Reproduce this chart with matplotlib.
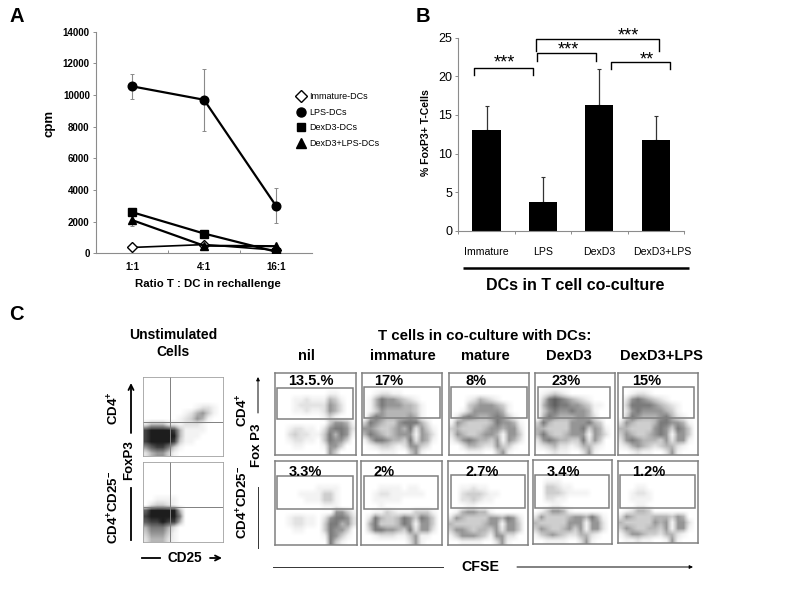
import matplotlib
matplotlib.use("Agg")
import matplotlib.pyplot as plt
import numpy as np
from matplotlib.lines import Line2D
from matplotlib.patches import Rectangle
from matplotlib.transforms import ScaledTranslation

plt.rcParams["font.family"] = ["Liberation Sans", "DejaVu Sans"]
plt.rcParams["mathtext.fontset"] = "custom"
plt.rcParams["mathtext.bf"] = "Liberation Sans:bold"
plt.rcParams["mathtext.rm"] = "Liberation Sans"

# Panel A
ratios = ["1:1", "4:1", "16:1"]
immature = [370, 550, 200]
lps = [10550, 9700, 3000]
dexd3 = [2600, 1250, 100]
dexd3_lps = [2100, 480, 450]
lps_err = [800, 1950, 1100]
dexd3_lps_err = [400, 100, 100]
a_yticks = [0, 2000, 4000, 6000, 8000, 10000, 12000, 14000]

# Panel B
b_cats = ["Immature", "LPS", "DexD3", "DexD3+LPS"]
b_vals = [13.1, 3.7, 16.3, 11.7]
b_errs = [3.0, 3.2, 4.6, 3.2]
b_yticks = [0, 5, 10, 15, 20, 25]

# Panel C texts
c_columns = ["nil", "immature", "mature", "DexD3", "DexD3+LPS"]
c_top_pct = ["13.5.%", "17%", "8%", "23%", "15%"]
c_bot_pct = ["3.3%", "2%", "2.7%", "3.4%", "1.2%"]

# Panel C: coarse density (0 empty .. 9 darkest), top row first
unstim_top = ["00000000000000", "00000000000000", "00000000000000", "00000000000000",
              "00000000000000", "00000000012210", "00000001245310", "00000012354100",
              "24442212221000", "89999841111000", "89999941110000", "89999831100000",
              "57886310000000", "24553100000000"]
unstim_bot = ["00000000000000", "00000000000000", "00000000000000", "00000000000000",
              "00000000000000", "00000000000000", "00111100000000", "02332100000000",
              "79999940000000", "89999960000000", "78898840000000", "46664200000000",
              "35553100000000", "24442100000000"]
nil_top = ["00000000000000", "00000000000000", "00000000000000", "00000000011000",
           "00011211143100", "00012222254200", "00011211254200", "00000000131000",
           "00000000035541", "00122110256652", "00232211364651", "00122110365530",
           "00011000155300", "00000000053000"]
imm_top = ["00000000000000", "00000000000000", "00000000000000", "00122110000000",
           "01465543210000", "01465554431000", "01354444431000", "04654444541000",
           "36543356664200", "55433454625310", "46543455515420", "14665443625410",
           "01233212553200", "00011100351000"]
mat_top = ["00000000000000", "00000000000000", "00000000000000", "00000000000000",
           "00012432100000", "00034555431000", "00135555541000", "02565445653100",
           "15433334655410", "34333345545520", "25433455415530", "13565443515420",
           "00244322533100", "00011100351000"]
dex_top = ["00000000000000", "00000000000000", "00000000000000", "01232100000000",
           "03676543210000", "04676655431100", "03565565541000", "04654445542000",
           "36433355564300", "44333355635410", "46433455515420", "25654433625300",
           "12342212442100", "00121100251000"]
dl_top = ["00000000000000", "00000000000000", "00000000000000", "00122100000000",
          "02565432100000", "03666654321000", "02565555431000", "03654445642100",
          "25433346655410", "44333356536530", "35433456515530", "25654443525510",
          "12454323442100", "00121100251000"]
nil_bot = ["00000000000000", "00000000000000", "00000000000000", "00000000000000",
           "00000001111000", "00001111331000", "00000111331000", "00000000111000",
           "00000000005531", "00122110256652", "00122110366452", "00011000365530",
           "00000000165310", "00000000063100"]
imm_bot = ["00000000000000", "00000000000000", "00000000000000", "00000000000000",
           "00011110110000", "00122111111000", "00111110000000", "00010000000000",
           "00113211133310", "02643346536530", "04633346515530", "03665543625520",
           "00122211351100", "00000000251000"]
mat_bot = ["00000000000000", "00000000000000", "00000000000000", "00000000000000",
           "00112110000000", "00233321100000", "00223211000000", "00011000000000",
           "01455441000000", "25433335546520", "43333345515530", "35543443525530",
           "13555431552200", "00111100251000"]
dex_bot = ["00000000000000", "00000000000000", "00000000000000", "00111000000000",
           "00332110000000", "00333211110000", "00221100000000", "00011000000000",
           "01355410000000", "25333345546410", "43333355515520", "35433453515520",
           "13454322442100", "00111100251000"]
dl_bot = ["00000000000000", "00000000000000", "00000000000000", "00000000000000",
          "00011000000000", "00122100000000", "00111100000000", "00011000000000",
          "01244300000000", "25433344435400", "43333354515520", "35433443515510",
          "13554332442100", "01121100151000"]

top_grids = [nil_top, imm_top, mat_top, dex_top, dl_top]
bot_grids = [nil_bot, imm_bot, mat_bot, dex_bot, dl_bot]

# Panel frames and gates in reference pixels: left, right, top, bottom
top_frames = [(275, 356, 373, 455), (362, 442, 373, 455), (449, 529, 373, 455),
              (535, 615, 373, 455), (618, 698, 373, 455)]
bot_frames = [(275, 357, 461, 545), (361, 442, 461, 545), (448, 528, 461, 545),
              (533, 612, 460, 544), (618, 698, 461, 543)]
top_gates = [(277, 353, 388, 419), (364, 440, 387, 418), (451, 527, 387, 418),
             (538, 610, 387, 418), (623, 694, 387, 418)]
bot_gates = [(277, 353, 476, 509), (364, 438, 476, 509), (451, 525, 475, 508),
             (535, 609, 475, 508), (620, 695, 475, 508)]

W, H = 800, 600
fig = plt.figure(figsize=(8, 6), dpi=100, facecolor="white")


def axes_px(l, r, t, b, **kw):
    return fig.add_axes([l / W, 1 - b / H, (r - l) / W, (b - t) / H], **kw)


GRAY = "#8c8c8c"

# ---------- A ----------
ax = axes_px(96, 312, 31.7, 253.3)
xa = np.arange(1, 4)
ax.errorbar(xa, lps, yerr=lps_err, fmt="none", ecolor="#8a8a8a", elinewidth=0.8, capsize=1.5, capthick=0.7, zorder=1)
ax.errorbar(xa[:1], dexd3_lps[:1], yerr=dexd3_lps_err[:1], fmt="none", ecolor="#8a8a8a", elinewidth=0.8, capsize=1.5, capthick=0.7, zorder=1)
ax.plot(xa, immature, "-D", color="k", mfc="white", mew=1, ms=5, lw=1.2, zorder=3)
ax.plot(xa, lps, "-o", color="k", ms=6.2, lw=1.6, zorder=3)
ax.plot(xa, dexd3, "-s", color="k", ms=5.6, lw=1.6, zorder=3)
ax.plot(xa, dexd3_lps, "-^", color="k", ms=5.6, lw=1.6, zorder=3)
ax.set_xlim(0.5, 3.5)
ax.set_ylim(0, 14000)
ax.set_yticks(a_yticks)
ax.set_xticks(xa)
ax.set_xticklabels(ratios, fontsize=7, fontweight="bold")
ax.set_xticks([1.5, 2.5], minor=True)
ax.tick_params(axis="x", which="major", length=0, pad=6)
ax.tick_params(axis="x", which="minor", length=2, direction="in", color=GRAY, width=0.7)
ax.tick_params(axis="y", length=2.5, width=0.7, color=GRAY, labelsize=7, pad=2)
for lab in ax.get_yticklabels():
    lab.set_fontweight("bold")
for s in ("top", "right"):
    ax.spines[s].set_visible(False)
for s in ("left", "bottom"):
    ax.spines[s].set_color(GRAY)
    ax.spines[s].set_linewidth(0.8)
legend_names = ["Immature-DCs", "LPS-DCs", "DexD3-DCs", "DexD3+LPS-DCs"]
handles = [
    Line2D([], [], ls="none", marker="D", color="k", mfc="white", mew=1, ms=6),
    Line2D([], [], ls="none", marker="o", color="k", ms=6.5),
    Line2D([], [], ls="none", marker="s", color="k", ms=5.8),
    Line2D([], [], ls="none", marker="^", color="k", ms=6.5),
]
fig.legend(handles, legend_names, loc="center left", bbox_to_anchor=(294 / W, 1 - 120 / H), frameon=False,
           fontsize=6.5, labelspacing=0.72, handletextpad=0.1, handlelength=1.6, borderpad=0, borderaxespad=0)

# ---------- B ----------
bx = axes_px(458.3, 684, 37.7, 230.7)
xb = np.arange(1, 5)
bx.bar(xb, b_vals, width=0.5, color="k", zorder=2)
bx.errorbar(xb, b_vals, yerr=[np.zeros(4), b_errs], fmt="none", ecolor="#333333", elinewidth=0.9, capsize=1.5, capthick=0.8, zorder=1)
bx.set_xlim(0.5, 4.5)
bx.set_ylim(0, 25)
bx.set_yticks(b_yticks)
bx.set_xticks(xb)
bx.set_xticklabels(b_cats, fontsize=7.6)
bx.set_xticks([0.5, 1.5, 2.5, 3.5, 4.5], minor=True)
bx.tick_params(axis="x", which="major", length=0, pad=12)
bx.tick_params(axis="x", which="minor", length=2.5, direction="out", color=GRAY, width=0.7)
bx.tick_params(axis="y", length=2.5, width=0.7, color=GRAY, labelsize=9, pad=2)
for s in ("top", "right"):
    bx.spines[s].set_visible(False)
for s in ("left", "bottom"):
    bx.spines[s].set_color(GRAY)
    bx.spines[s].set_linewidth(0.8)
lab = bx.get_xticklabels()[-1]
lab.set_transform(lab.get_transform() + ScaledTranslation(7 / 100, 0, fig.dpi_scale_trans))

# ---------- C panels ----------
def flow_panel(frame, grid, gate=None, edge="#808080", lw=1.1):
    l, r, t, b = frame
    pa = axes_px(l, r, t, b)
    arr = np.array([[int(c) for c in row] for row in grid], dtype=float)
    pa.imshow(arr, cmap="Greys", vmin=0, vmax=10, interpolation="bilinear", aspect="auto",
              extent=(l, r, b, t))
    pa.set_xlim(l, r)
    pa.set_ylim(b, t)
    pa.set_xticks([])
    pa.set_yticks([])
    for s in pa.spines.values():
        s.set_color(edge)
        s.set_linewidth(lw)
    if gate is not None:
        gl, gr, gt, gb = gate
        pa.add_patch(Rectangle((gl, gt), gr - gl, gb - gt, fill=False, ec=edge, lw=lw))
    return pa


for i in range(5):
    flow_panel(top_frames[i], top_grids[i], top_gates[i])
    flow_panel(bot_frames[i], bot_grids[i], bot_gates[i])

p1 = flow_panel((143.3, 222.7, 376.7, 456), unstim_top, lw=0.6, edge="#a0a0a0")
p1.axvline(170.3, color="#808080", lw=0.7)
p1.axhline(422, color="#808080", lw=0.7)
p2 = flow_panel((143.3, 222.7, 462, 541.7), unstim_bot, lw=0.6, edge="#a0a0a0")
p2.axvline(170.3, color="#808080", lw=0.7)
p2.axhline(507.3, color="#808080", lw=0.7)

# ---------- Overlay: annotations in reference pixels ----------
ov = fig.add_axes([0, 0, 1, 1], facecolor="none", zorder=10)
ov.set_xlim(0, W)
ov.set_ylim(H, 0)
ov.axis("off")


def txt(x, y, s, size=9, weight="bold", rot=0, **kw):
    ov.text(x, y, s, fontsize=size, fontweight=weight, rotation=rot, ha="center", va="center", **kw)


txt(17, 17, "A", 14.5)
txt(423, 16, "B", 14.5)
txt(16, 315, "C", 14.5)

txt(208, 284, "Ratio T : DC in rechallenge", 8.2)
txt(50, 123, "cpm", 9.5, rot=90)
txt(426, 133, "% FoxP3+ T-Cells", 7.6, rot=90)
txt(575, 285, "DCs in T cell co-culture", 11.5)
ov.plot([463, 689], [268, 268], color="k", lw=1.8, solid_capstyle="butt")


def bracket(l, r, top, bottom):
    ov.plot([l, l, r, r], [bottom, top, top, bottom], color="k", lw=1.0, solid_joinstyle="round")


bracket(474, 532.7, 68.3, 75)
bracket(537, 596, 53.3, 60.7)
bracket(536, 659, 39, 50.7)
bracket(610.7, 669.7, 62, 69.3)
txt(504, 63, "***", 13, weight="normal")
txt(568, 50, "***", 13, weight="normal")
txt(628, 36, "***", 13, weight="normal")
txt(646.7, 60, "**", 13, weight="normal")

txt(173, 335, "Unstimulated", 10)
txt(173, 352, "Cells", 10)
txt(114, 408, r"$\mathbf{CD4^{+}}$", 9.5, rot=90)
txt(114, 507, r"$\mathbf{CD4^{+}CD25^{-}}$", 9.5, rot=90)
txt(129, 460, "FoxP3", 9.5, rot=90)
txt(185, 558, "CD25", 9.8)
txt(243, 410, r"$\mathbf{CD4^{+}}$", 9.5, rot=90)
txt(243, 502, r"$\mathbf{CD4^{+}CD25^{-}}$", 9.5, rot=90)
txt(257, 445, "Fox P3", 9.5, rot=90)
txt(485, 336, "T cells in co-culture with DCs:", 10.8)
txt(480, 567, "CFSE", 10.2)

for x, s in zip([306, 403, 485, 569, 661], c_columns):
    txt(x, 356, s, 10.5)
for x, s in zip([311, 389, 476, 566, 647], c_top_pct):
    txt(x, 381, s, 10.5)
for x, s in zip([305, 384, 482, 563, 649], c_bot_pct):
    txt(x, 472, s, 10.5)


def arrow(x0, y0, x1, y1, lw=1.0, ms=6):
    ov.annotate("", xy=(x1, y1), xytext=(x0, y0),
                arrowprops=dict(arrowstyle="->" if lw > 1 else "-|>", color="k", lw=lw, mutation_scale=ms, shrinkA=0, shrinkB=0))


arrow(131, 433, 131, 383, lw=1.3, ms=9)
ov.plot([131, 131], [488, 540], color="k", lw=1.3)
ov.plot([142, 160], [558, 558], color="k", lw=1.3)
arrow(210, 558, 222, 558, lw=1.3, ms=9)
arrow(258, 413, 258, 377, lw=0.7, ms=5)
ov.plot([258, 258], [487, 548], color="#333333", lw=0.7)
ov.plot([273, 443], [567, 567], color="#333333", lw=0.7)
arrow(517, 567, 693, 567, lw=0.7, ms=5)

fig.savefig("out.png", dpi=100, facecolor="white")
